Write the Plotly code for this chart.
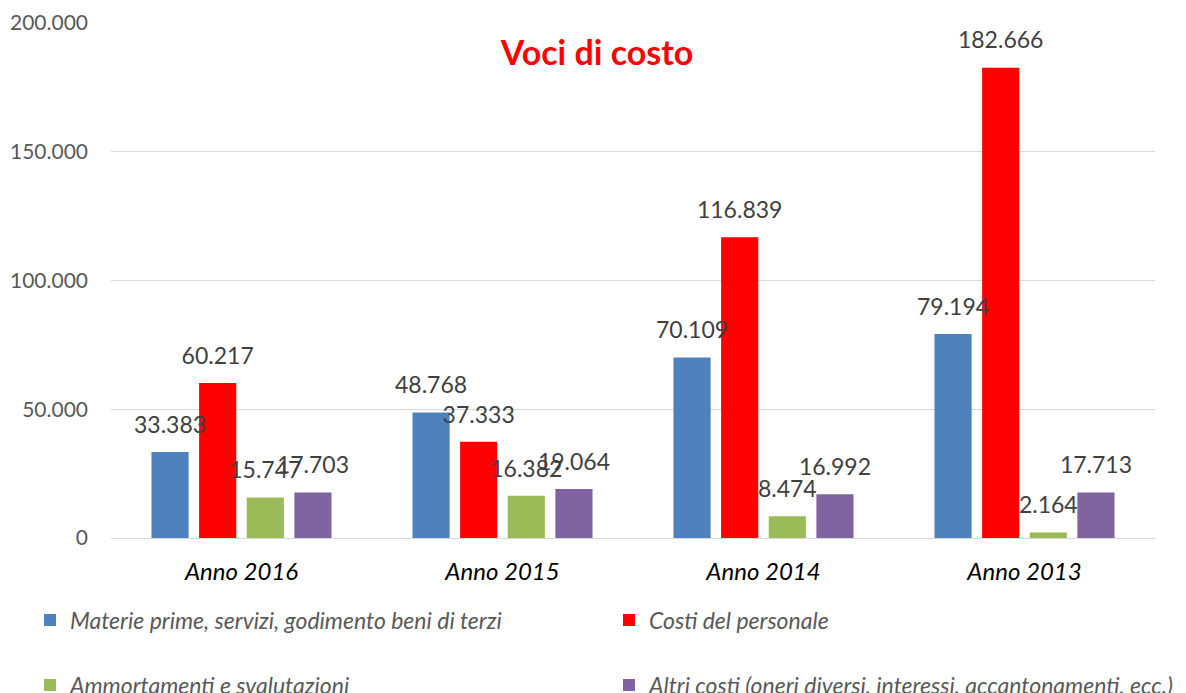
import plotly.graph_objects as go

categories = ["Anno 2016", "Anno 2015", "Anno 2014", "Anno 2013"]
series_names = [
    "Materie prime, servizi, godimento beni di terzi",
    "Costi del personale",
    "Ammortamenti e svalutazioni",
    "Altri costi (oneri diversi, interessi, accantonamenti, ecc.)",
]
materie = [33383, 48768, 70109, 79194]
personale = [60217, 37333, 116839, 182666]
ammortamenti = [15747, 16382, 8474, 2164]
altri = [17703, 19064, 16992, 17713]
colors = ["#4F81BD", "#FF0000", "#9BBB59", "#8064A2"]
legend_ids = ["legend", "legend2", "legend3", "legend4"]

values = [materie, personale, ammortamenti, altri]

def fmt(v):
    return f"{v:,}".replace(",", ".")

FONT = "Lato"

fig = go.Figure()
for i, (name, vals) in enumerate(zip(series_names, values)):
    fig.add_trace(go.Bar(
        x=categories, y=vals, name=name,
        marker=dict(color=colors[i], line=dict(width=0)),
        offsetgroup=str(i), legend=legend_ids[i],
        hoverinfo="skip",
    ))
for i, vals in enumerate(values):
    fig.add_trace(go.Scatter(
        x=categories, y=vals, mode="markers+text",
        marker=dict(size=20, opacity=0, color=colors[i]),
        text=[fmt(v) for v in vals], textposition="top center",
        textfont=dict(family=FONT, size=23, color="#404040"),
        offsetgroup=str(i), showlegend=False, cliponaxis=False,
        hoverinfo="skip",
    ))

legend_font = dict(family=FONT, size=23, color="#595959", style="italic")

def leg(x, y):
    return dict(x=x, xanchor="left", y=y, yanchor="middle", font=legend_font,
                bgcolor="rgba(0,0,0,0)", itemclick=False, itemdoubleclick=False)

fig.update_layout(
    width=1178, height=685,
    paper_bgcolor="white", plot_bgcolor="white",
    margin=dict(l=103, r=31, t=15, b=155, autoexpand=False),
    barmode="group", bargap=0.27, bargroupgap=0.22,
    scattermode="group", scattergap=0.27,
    separators=",.",
    font=dict(family=FONT, color="#595959"),
    title=dict(text="<b>Voci di costo</b>", x=0.5, xanchor="center",
               y=1 - 45 / 685, yanchor="middle",
               font=dict(family=FONT, size=34, color="#FF0000")),
    xaxis=dict(showgrid=False, showline=True, linecolor="#D9D9D9", linewidth=1,
               ticks="", ticklabelstandoff=12, automargin=False,
               tickfont=dict(family=FONT, size=24, color="#000000", style="italic")),
    yaxis=dict(range=[0, 200000], tickvals=[0, 50000, 100000, 150000, 200000],
               tickformat=",d", showgrid=True, gridcolor="#D9D9D9", gridwidth=1,
               zeroline=False, ticks="", ticklabelstandoff=22, automargin=False,
               tickfont=dict(family=FONT, size=21, color="#595959")),
    legend=leg(-0.0776, -82 / 515),
    legend2=leg(0.477, -82 / 515),
    legend3=leg(-0.0776, -147 / 515),
    legend4=leg(0.477, -147 / 515),
)

fig.write_html("out.html")
